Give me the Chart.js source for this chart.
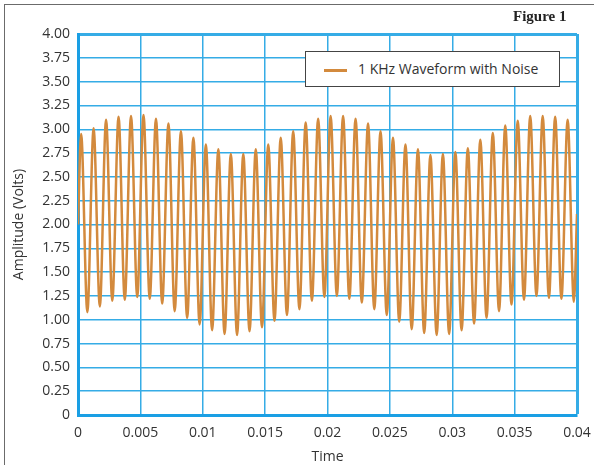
<!DOCTYPE html>
<html>
<head>
<meta charset="utf-8">
<script src="https://cdn.jsdelivr.net/npm/chart.js@4"></script>
<style>
  body { margin: 0; background: #fff; }
  #wrap { position: relative; width: 594px; height: 465px; overflow: hidden; }
  #frame { position: absolute; left: 4px; top: 4px; width: 600px; height: 480px;
           border-top: 1.5px solid #6b6b6b; border-left: 1.5px solid #6b6b6b; }
  #fig { position: absolute; left: 513px; top: 8px; font-family: "Liberation Serif", serif;
         font-weight: bold; font-size: 15px; color: #222; }
  #legend { position: absolute; left: 305px; top: 51px; width: 255px; height: 36px;
            background: #fff; border: 1px solid #444; box-sizing: border-box;
            font-family: "Open Sans", sans-serif; font-size: 14px; color: #333; }
  #legend .swatch { position: absolute; left: 18px; top: 17px; width: 23px; height: 2.5px; }
  #legend .txt { position: absolute; left: 52px; top: 7px; white-space: nowrap; }
  canvas { position: absolute; left: 0; top: 0; }
</style>
</head>
<body>
<div id="wrap">
  <div id="frame"></div>
  <canvas id="waveChart" width="594" height="465"></canvas>
  <div id="fig">Figure 1</div>
  <div id="legend"><span class="swatch"></span><span class="txt"></span></div>
</div>
<script>
// Valores: picos y valles de cada ciclo de 1 kHz
const serieNombre = '1 KHz Waveform with Noise';
const peakTimes = [0.00025, 0.00125, 0.00225, 0.00325, 0.00425, 0.00525, 0.00625, 0.00725, 0.00825, 0.00925,
  0.01025, 0.01125, 0.01225, 0.01325, 0.01425, 0.01525, 0.01625, 0.01725, 0.01825, 0.01925,
  0.02025, 0.02125, 0.02225, 0.02325, 0.02425, 0.02525, 0.02625, 0.02725, 0.02825, 0.02925,
  0.03025, 0.03125, 0.03225, 0.03325, 0.03425, 0.03525, 0.03625, 0.03725, 0.03825, 0.03925];
const peakVolts = [2.95, 3.01, 3.10, 3.13, 3.14, 3.15, 3.11, 3.06, 2.98, 2.91,
  2.84, 2.79, 2.74, 2.74, 2.79, 2.84, 2.91, 2.98, 3.07, 3.11,
  3.14, 3.14, 3.11, 3.06, 2.98, 2.91, 2.84, 2.79, 2.73, 2.74,
  2.76, 2.80, 2.89, 2.96, 3.04, 3.09, 3.14, 3.14, 3.13, 3.10];
const troughTimes = [0.00075, 0.00175, 0.00275, 0.00375, 0.00475, 0.00575, 0.00675, 0.00775, 0.00875, 0.00975,
  0.01075, 0.01175, 0.01275, 0.01375, 0.01475, 0.01575, 0.01675, 0.01775, 0.01875, 0.01975,
  0.02075, 0.02175, 0.02275, 0.02375, 0.02475, 0.02575, 0.02675, 0.02775, 0.02875, 0.02975,
  0.03075, 0.03175, 0.03275, 0.03375, 0.03475, 0.03575, 0.03675, 0.03775, 0.03875, 0.03975];
const troughVolts = [1.08, 1.14, 1.20, 1.21, 1.24, 1.22, 1.17, 1.09, 1.02, 0.95,
  0.89, 0.85, 0.84, 0.88, 0.92, 0.99, 1.05, 1.11, 1.20, 1.24,
  1.25, 1.22, 1.18, 1.11, 1.05, 0.98, 0.90, 0.86, 0.84, 0.85,
  0.89, 0.96, 1.02, 1.09, 1.16, 1.21, 1.25, 1.23, 1.22, 1.19];
const startPoint = { x: 0, y: 2.0 };
const endPoint = { x: 0.04, y: 2.11 };

const lineColor = '#d38a3d';
const gridColor = '#35ace6';
const edgeColor = '#1a9fe4';

// Construir la serie ordenada en el tiempo
const puntos = [startPoint];
peakTimes.forEach((t, i) => {
  puntos.push({ x: t, y: peakVolts[i] });
  puntos.push({ x: troughTimes[i], y: troughVolts[i] });
});
puntos.push(endPoint);

const tickFont = { family: 'Open Sans', size: 14 };

const ctx = document.getElementById('waveChart').getContext('2d');
const waveChart = new Chart(ctx, {
  type: 'line',
  data: {
    datasets: [{
      label: serieNombre,
      data: puntos,
      borderColor: lineColor,
      borderWidth: 2.5,
      pointRadius: 0,
      fill: false,
      cubicInterpolationMode: 'monotone'
    }]
  },
  options: {
    responsive: false,
    animation: false,
    layout: { padding: { left: 0, top: 34, right: 17, bottom: 0 } },
    plugins: {
      legend: { display: false },
      tooltip: { enabled: false }
    },
    scales: {
      x: {
        type: 'linear',
        min: 0,
        max: 0.04,
        ticks: {
          stepSize: 0.005,
          color: '#333',
          font: tickFont,
          padding: 10,
          maxRotation: 0,
          callback: v => String(parseFloat(v.toFixed(3)))
        },
        grid: {
          color: gridColor,
          lineWidth: c => (c.tick && (c.tick.value === 0.04)) ? 3 : 1.5,
          drawTicks: false
        },
        border: { color: edgeColor, width: 3 },
        title: { display: true, text: 'Time', color: '#333', font: tickFont, padding: 0 },
        afterFit: s => { s.height = 50; s.paddingRight = 0; s.paddingLeft = 0; }
      },
      y: {
        min: 0,
        max: 4,
        ticks: {
          stepSize: 0.25,
          color: '#333',
          font: tickFont,
          padding: 8,
          callback: v => v === 0 ? '0' : v.toFixed(2)
        },
        grid: {
          color: gridColor,
          lineWidth: c => (c.tick && c.tick.value === 4) ? 3 : 1.5,
          drawTicks: false
        },
        border: { color: edgeColor, width: 3 },
        title: { display: true, text: 'Amplitude (Volts)', color: '#333', font: tickFont, padding: 11 },
        afterFit: s => { s.width = 78; }
      }
    }
  }
});

// Leyenda en caja, a partir del propio dataset
const ds = waveChart.data.datasets[0];
document.querySelector('#legend .swatch').style.background = ds.borderColor;
document.querySelector('#legend .txt').textContent = ds.label;
</script>
</body>
</html>
